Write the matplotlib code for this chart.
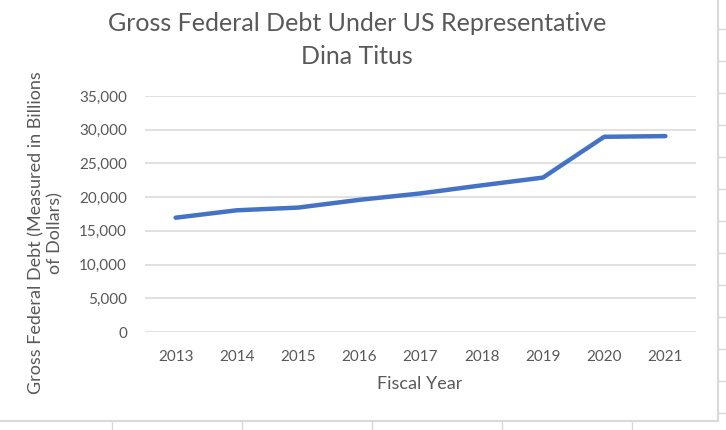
import matplotlib
matplotlib.use("Agg")
import matplotlib.pyplot as plt
from matplotlib.lines import Line2D
from matplotlib.ticker import FuncFormatter

years = ["2013", "2014", "2015", "2016", "2017", "2018", "2019", "2020", "2021"]
debt = [16950, 18050, 18450, 19600, 20550, 21750, 22900, 28950, 29050]
y_ticks = [0, 5000, 10000, 15000, 20000, 25000, 30000, 35000]

title = "Gross Federal Debt Under US Representative\nDina Titus"
x_label = "Fiscal Year"
y_label = "Gross Federal Debt (Measured in Billions\nof Dollars)"

plt.rcParams['font.family'] = ['Lato', 'DejaVu Sans']
TEXT = "#595959"
GRID = "#D9D9D9"

W, H = 726, 430
fig = plt.figure(figsize=(W / 100, H / 100), dpi=100)
fig.patch.set_facecolor("white")

# spreadsheet cells peeking out around the chart box
bx, by = 718, 421
for yy in range(29, by, 32):
    fig.add_artist(Line2D([bx / W, 1], [1 - yy / H] * 2, color=GRID, lw=1.0))
for xx in [112, 242, 372, 502, 632]:
    fig.add_artist(Line2D([xx / W] * 2, [0, 1 - by / H], color=GRID, lw=1.0))
fig.add_artist(Line2D([bx / W] * 2, [1, 1 - by / H], color=GRID, lw=1.5))
fig.add_artist(Line2D([0, bx / W], [1 - by / H] * 2, color=GRID, lw=1.5))

left, right, top, bottom = 145, 696, 96, 332
ax = fig.add_axes([left / W, 1 - bottom / H, (right - left) / W, (bottom - top) / H])

x = range(len(years))
ax.plot(x, debt, color="#4472C4", lw=3.2, solid_capstyle="round", solid_joinstyle="round", zorder=3)

ax.set_xlim(-0.5, len(years) - 0.5)
ax.set_ylim(0, 35000)
ax.set_yticks(y_ticks)
ax.yaxis.set_major_formatter(FuncFormatter(lambda v, p: f"{int(v):,}"))
ax.set_xticks(list(x))
ax.set_xticklabels(years)
ax.grid(axis="y", color=GRID, lw=1.1)
ax.set_axisbelow(True)
for s in ax.spines.values():
    s.set_visible(False)
ax.tick_params(length=0, labelsize=11, labelcolor=TEXT)
ax.tick_params(axis="y", pad=13)
ax.tick_params(axis="x", pad=13)

fig.text(357 / W, 1 - 40 / H, title, ha="center", va="center", fontsize=18,
         color=TEXT, linespacing=1.5)
fig.text(420 / W, 1 - 384 / H, x_label, ha="center", va="center", fontsize=13, color=TEXT)
fig.text(46 / W, 1 - 233 / H, y_label, ha="center", va="center", rotation=90,
         fontsize=13, color=TEXT, multialignment="center")

fig.savefig("out.png", dpi=100)
